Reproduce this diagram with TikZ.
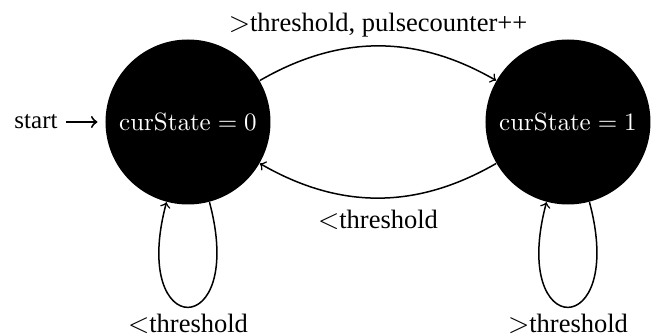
\documentclass[tikz,border=0pt]{standalone}
\usepackage[no-math]{fontspec}
\setmainfont{Liberation Serif}
\begin{document}
\begin{tikzpicture}[x=1pt,y=1pt,
  state/.style={circle,fill=black,text=white,minimum size=66pt,inner sep=0pt},
  conn/.style={->,semithick},
  lbl/.style={font=\fontsize{10.6}{12}\selectfont}]
\useasboundingbox (0,0) rectangle (260.8,134);
\node[state] (q0) at (75.2,85.2) {$\mathrm{curState}=0$};
\node[state] (q1) at (227.2,85.2) {$\mathrm{curState}=1$};
\node (st) at (14.4,85.2) {start};
\draw[conn, thick, shorten >=3pt] (st) -- (q0);
\draw[conn] (q0) to[bend left=30] node[above,lbl] {$>$threshold, pulsecounter++} (q1);
\draw[conn] (q1) to[bend left=30] node[below,lbl,yshift=-1pt] {$<$threshold} (q0);
\draw[conn] (q0) to[out=-75,in=-105,distance=58pt] node[below,lbl,yshift=1pt] {$<$threshold} (q0);
\draw[conn] (q1) to[out=-75,in=-105,distance=58pt] node[below,lbl,yshift=1pt] {$>$threshold} (q1);
\end{tikzpicture}
\end{document}
